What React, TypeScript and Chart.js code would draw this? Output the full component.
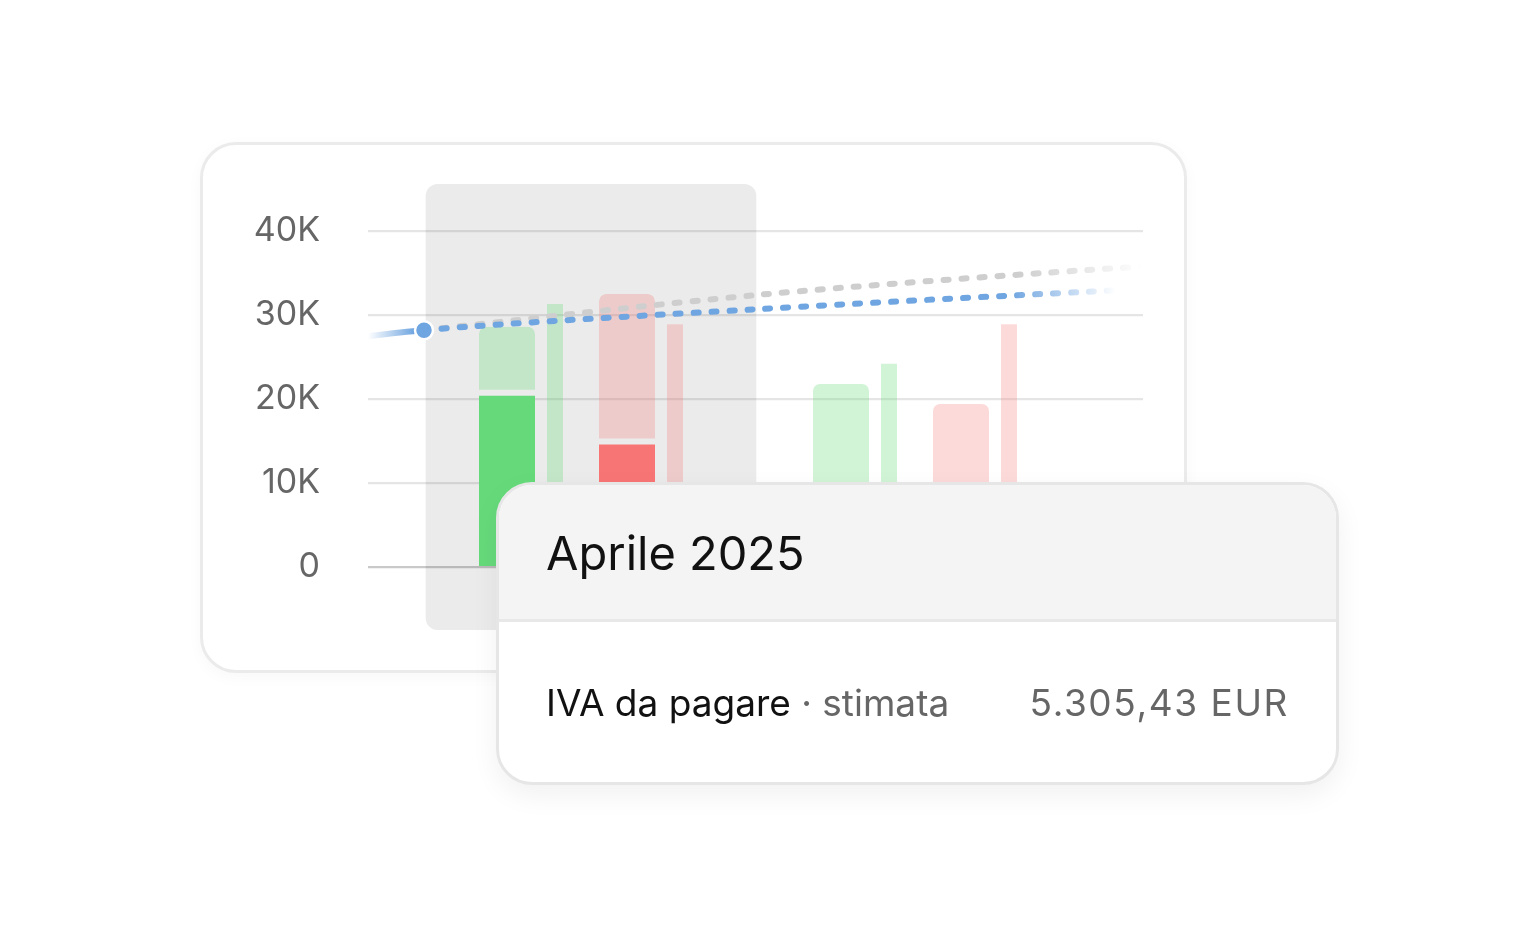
import React, { useEffect, useRef } from "react";
import { Chart, registerables } from "chart.js";

Chart.register(...registerables);

// ---- data ----
const months = ["Aprile 2025", "Maggio 2025"];
const monthPos = [1, 2];
const greenActual = [20400, null];
const greenForecast = [8200, 21800];
const greenThin = [31300, 24200];
const redActual = [14600, null];
const redForecast = [17900, 19400];
const redThin = [28900, 28900];
const trendX = [0, 0.5, 1.5, 2.5, 3];
const blueTrend = [25800, 28200, 30700, 32800, 33600];
const greyTrend = [null, 28200, 32400, 35400, 36400];
const yTicks = [0, 10000, 20000, 30000, 40000];
const activeIndex = 0;

const tooltipTitle = "Aprile 2025";
const tooltipLabel = "IVA da pagare";
const tooltipNote = "stimata";
const tooltipValue = "5.305,43 EUR";

// ---- style ----
const GREEN = "102,218,123";
const RED = "248,117,117";
const BLUE = "111,165,224";
const GREY = "206,206,206";
const FONT = "Inter, 'Liberation Sans', sans-serif";

function fade(chart: any, rgb: string, stops: [number, number][]) {
  const area = chart.chartArea;
  if (!area) return `rgb(${rgb})`;
  const g = chart.ctx.createLinearGradient(area.left, 0, area.right, 0);
  stops.forEach(([o, a]) => g.addColorStop(o, `rgba(${rgb},${a})`));
  return g;
}

const pts = (vals: (number | null)[]) => months.map((_, i) => ({ x: monthPos[i], y: vals[i] }));
const emptySlot = (id: string) => ({
  type: "bar" as const,
  data: months.map((_, i) => ({ x: monthPos[i], y: null })),
  stack: id,
  order: 1,
});

const activeColumnPlugin = {
  id: "activeColumn",
  beforeDraw(chart: any) {
    const { ctx, chartArea, scales } = chart;
    const c = monthPos[activeIndex];
    const l = scales.x.getPixelForValue(c - 0.495);
    const r = scales.x.getPixelForValue(c + 0.495);
    ctx.save();
    ctx.fillStyle = "#ebebeb";
    ctx.beginPath();
    ctx.roundRect(l, chartArea.top, r - l, chartArea.bottom - chartArea.top, 12);
    ctx.fill();
    ctx.restore();
  },
};

const gapBorder = (vals: (number | null)[]) => (ctx: any) =>
  vals[ctx.dataIndex] ? { top: 0, left: 0, right: 0, bottom: 6 } : 0;

export default function App() {
  const ref = useRef<HTMLCanvasElement | null>(null);

  useEffect(() => {
    if (!ref.current) return;
    const wide = 56 / 24;
    const thin = 16 / 24;
    const chart = new Chart(ref.current, {
      type: "bar",
      data: {
        datasets: [
          {
            type: "line",
            data: trendX.map((x, i) => ({ x, y: blueTrend[i] })),
            borderColor: (ctx: any) =>
              fade(ctx.chart, BLUE, [[0, 0], [0.06, 1], [0.83, 1], [0.965, 0]]),
            borderWidth: 6,
            borderCapStyle: "round",
            segment: { borderDash: (ctx: any) => (ctx.p0DataIndex >= 1 ? [5, 13] : undefined) },
            pointRadius: (ctx: any) => (ctx.dataIndex === 1 ? 9 : 0),
            pointBackgroundColor: `rgb(${BLUE})`,
            pointBorderColor: "#ffffff",
            pointBorderWidth: 2.5,
            tension: 0.3,
            order: 0,
          } as any,
          {
            type: "line",
            data: trendX.map((x, i) => ({ x, y: greyTrend[i] })),
            borderColor: (ctx: any) => fade(ctx.chart, GREY, [[0, 1], [0.84, 1], [1, 0]]),
            borderWidth: 6,
            borderCapStyle: "round",
            borderDash: [5, 13],
            pointRadius: 0,
            tension: 0.3,
            order: 0.5,
          } as any,
          {
            data: pts(greenActual),
            stack: "s0",
            backgroundColor: `rgb(${GREEN})`,
            barPercentage: wide,
            order: 1,
          },
          {
            data: pts(greenForecast),
            stack: "s0",
            backgroundColor: `rgba(${GREEN},0.3)`,
            borderColor: "rgba(0,0,0,0)",
            borderWidth: gapBorder(greenActual),
            borderSkipped: false,
            borderRadius: { topLeft: 7, topRight: 7, bottomLeft: 0, bottomRight: 0 },
            barPercentage: wide,
            order: 1,
          } as any,
          emptySlot("s1"),
          {
            data: pts(greenThin),
            stack: "s2",
            backgroundColor: `rgba(${GREEN},0.3)`,
            barPercentage: thin,
            order: 1,
          },
          emptySlot("s3"),
          emptySlot("s4"),
          {
            data: pts(redActual),
            stack: "s5",
            backgroundColor: `rgb(${RED})`,
            barPercentage: wide,
            order: 1,
          },
          {
            data: pts(redForecast),
            stack: "s5",
            backgroundColor: `rgba(${RED},0.27)`,
            borderColor: "rgba(0,0,0,0)",
            borderWidth: gapBorder(redActual),
            borderSkipped: false,
            borderRadius: { topLeft: 7, topRight: 7, bottomLeft: 0, bottomRight: 0 },
            barPercentage: wide,
            order: 1,
          } as any,
          emptySlot("s6"),
          {
            data: pts(redThin),
            stack: "s7",
            backgroundColor: `rgba(${RED},0.27)`,
            barPercentage: thin,
            order: 1,
          },
        ] as any,
      },
      options: {
        animation: false,
        responsive: true,
        maintainAspectRatio: false,
        events: [],
        layout: { padding: 0, autoPadding: false },
        datasets: { bar: { categoryPercentage: 192 / 334 } },
        plugins: { legend: { display: false }, tooltip: { enabled: false } },
        scales: {
          x: {
            type: "linear",
            display: false,
            offset: false,
            grid: { offset: false },
            min: 1 - 223 / 334,
            max: 1 - 223 / 334 + 775 / 334,
            afterBuildTicks: (axis: any) => {
              axis.ticks = monthPos.map((value) => ({ value }));
            },
          },
          y: {
            min: -7500,
            max: 45600,
            afterBuildTicks: (axis: any) => {
              axis.ticks = yTicks.map((value) => ({ value }));
            },
            afterFit: (axis: any) => {
              axis.width = 148;
              axis.paddingTop = 0;
              axis.paddingBottom = 0;
            },
            border: { display: false },
            grid: {
              drawTicks: false,
              lineWidth: 2.2,
              color: (ctx: any) =>
                ctx.tick && ctx.tick.value === 0 ? "rgba(0,0,0,0.21)" : "rgba(0,0,0,0.1)",
            },
            ticks: {
              padding: 48,
              color: "#666666",
              font: { family: FONT, size: 34 },
              callback: (v: any) => (v === 0 ? "0" : `${v / 1000}K`),
            },
          },
        },
      } as any,
      plugins: [activeColumnPlugin],
    });
    return () => chart.destroy();
  }, []);

  return (
    <div
      style={{
        position: "absolute",
        left: 0,
        top: 0,
        width: 1537,
        height: 928,
        background: "#ffffff",
        overflow: "hidden",
        fontFamily: FONT,
      }}
    >
      <div
        style={{
          position: "absolute",
          left: 200,
          top: 142,
          width: 987,
          height: 531,
          boxSizing: "border-box",
          border: "3px solid #ebebeb",
          borderRadius: 36,
          background: "#ffffff",
          boxShadow: "0 4px 16px rgba(0,0,0,0.03)",
        }}
      />
      <div style={{ position: "absolute", left: 220, top: 184, width: 923, height: 446 }}>
        <canvas ref={ref} />
      </div>
      <div
        style={{
          position: "absolute",
          left: 496,
          top: 482,
          width: 843,
          height: 303,
          boxSizing: "border-box",
          border: "3px solid #e6e6e6",
          borderRadius: 36,
          background: "#ffffff",
          overflow: "hidden",
          boxShadow: "0 10px 28px rgba(0,0,0,0.06)",
          display: "flex",
          flexDirection: "column",
        }}
      >
        <div
          style={{
            height: 137,
            boxSizing: "border-box",
            background: "#f4f4f4",
            borderBottom: "3px solid #e8e8e8",
            display: "flex",
            alignItems: "center",
            padding: "0 47px",
            fontSize: 47,
            color: "#111111",
          }}
        >
          {tooltipTitle}
        </div>
        <div
          style={{
            flex: 1,
            display: "flex",
            alignItems: "center",
            justifyContent: "space-between",
            padding: "0 47px",
            fontSize: 37,
          }}
        >
          <span style={{ color: "#111111" }}>
            {tooltipLabel}
            <span style={{ color: "#666666" }}> · {tooltipNote}</span>
          </span>
          <span style={{ color: "#666666", letterSpacing: 1.6 }}>{tooltipValue}</span>
        </div>
      </div>
    </div>
  );
}
